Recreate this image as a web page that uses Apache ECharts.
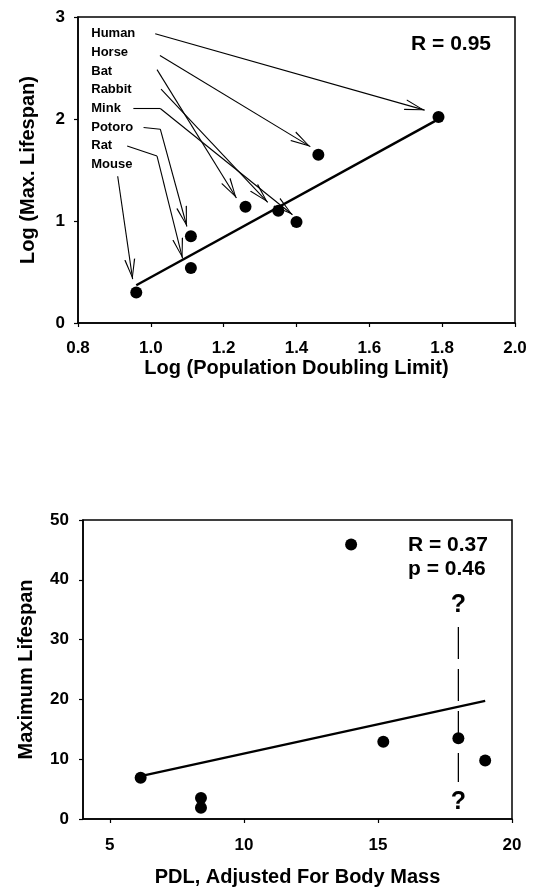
<!DOCTYPE html>
<html>
<head>
<meta charset="utf-8">
<script src="https://cdn.jsdelivr.net/npm/echarts@6/dist/echarts.min.js"></script>
<style>
  html, body { margin: 0; padding: 0; background: #fff; }
  #chart { width: 533px; height: 891px; }
</style>
</head>
<body>
<div id="chart"></div>
<script>
// top panel: log-log plot
var speciesNames = ['Human', 'Horse', 'Bat', 'Rabbit', 'Mink', 'Potoro', 'Rat', 'Mouse'];
var logPdl = [1.79, 1.46, 1.26, 1.35, 1.40, 1.11, 1.11, 0.96];
var logLifespan = [2.02, 1.65, 1.14, 1.10, 0.99, 0.85, 0.54, 0.30];
var labelX = 0.835;
var labelY = [2.835, 2.652, 2.469, 2.286, 2.103, 1.92, 1.737, 1.554];
// pointer lines from each name to its point (last vertex gets the arrow)
var pointerPaths = [
    [[1.012, 2.836], [1.752, 2.087]],
    [[1.025, 2.622], [1.438, 1.729]],
    [[1.017, 2.484], [1.235, 1.226]],
    [[1.028, 2.294], [1.321, 1.183]],
    [[0.952, 2.103], [1.026, 2.103], [1.389, 1.061]],
    [[0.980, 1.916], [1.026, 1.900], [1.099, 0.946]],
    [[0.935, 1.735], [1.017, 1.637], [1.087, 0.634]],
    [[0.909, 1.439], [0.950, 0.430]]
];
var fitTop = [[0.96, 0.37], [1.78, 1.98]];

// bottom panel: adjusted PDL
var pdlAdjusted = [6.15, 8.4, 8.4, 14.0, 15.2, 18.0, 19.0];
var maxLifespan = [6.9, 3.5, 1.9, 45.9, 12.9, 13.5, 9.8];
var fitBottom = [[6.15, 7.16], [19.0, 19.75]];
var rangeLine = [[18, 32.1], [18, 6.2]];
var questionMarks = [[18, 35.8], [18, 2.8]];

var font = 'Liberation Sans';
// open arrow head, tip sits at the centre of the box
var arrowHead = 'path://M6,0L6.01,0L6,0.01ZM6,20L12,40L10.6,40L6,23.5L1.4,40L0,40Z';

var chart = echarts.init(document.getElementById('chart'));

var pointerLines = [];
pointerPaths.forEach(function (path) {
    for (var i = 0; i < path.length - 1; i++) {
        var last = i === path.length - 2;
        pointerLines.push([
            { coord: path[i], symbol: 'none' },
            { coord: path[i + 1], symbol: last ? arrowHead : 'none', symbolSize: [11, 40] }
        ]);
    }
});

function axisCommon() {
    return {
        axisLine: { show: true, onZero: false, lineStyle: { color: '#000', width: 1.5 } },
        axisTick: { show: true, inside: false, length: 4, lineStyle: { color: '#000', width: 1.2 } },
        splitLine: { show: false },
        nameTextStyle: { fontFamily: font, fontWeight: 'bold', fontSize: 20, color: '#000' }
    };
}

var tickFont = { fontFamily: font, fontWeight: 'bold', fontSize: 17, color: '#000' };

var xTop = Object.assign(axisCommon(), {
    gridIndex: 0, type: 'value', min: 0.8, max: 2.0, interval: 0.2,
    name: 'Log (Population Doubling Limit)', nameLocation: 'middle', nameGap: 35,
    axisLabel: Object.assign({ margin: 17, formatter: function (v) { return v.toFixed(1); } }, tickFont)
});
var yTop = Object.assign(axisCommon(), {
    gridIndex: 0, type: 'value', min: 0, max: 3, interval: 1,
    name: 'Log (Max. Lifespan)', nameLocation: 'middle', nameGap: 40,
    axisLabel: Object.assign({ margin: 13 }, tickFont)
});
var xBottom = Object.assign(axisCommon(), {
    gridIndex: 1, type: 'value', min: 4, max: 20,
    name: 'PDL, Adjusted For Body Mass', nameLocation: 'middle', nameGap: 48,
    axisLabel: Object.assign({ margin: 18, customValues: [5, 10, 15, 20] }, tickFont)
});
xBottom.axisTick.customValues = [5, 10, 15, 20];
var yBottom = Object.assign(axisCommon(), {
    gridIndex: 1, type: 'value', min: 0, max: 50, interval: 10,
    name: 'Maximum Lifespan', nameLocation: 'middle', nameGap: 47,
    axisLabel: Object.assign({ margin: 14 }, tickFont)
});

var option = {
    animation: false,
    backgroundColor: '#fff',
    grid: [
        { left: 78, top: 17, width: 437, height: 306, show: true, borderColor: '#000', borderWidth: 1.5, backgroundColor: 'transparent' },
        { left: 83, top: 520, width: 429, height: 299, show: true, borderColor: '#000', borderWidth: 1.5, backgroundColor: 'transparent' }
    ],
    xAxis: [xTop, xBottom],
    yAxis: [yTop, yBottom],
    graphic: [
        { type: 'text', right: 533 - 491, top: 34,
          style: { text: 'R = 0.95', font: 'bold 21px "Liberation Sans"', fill: '#000', textAlign: 'right' } },
        { type: 'text', left: 408, top: 533,
          style: { text: 'R = 0.37\np = 0.46', font: 'bold 21px "Liberation Sans"', fill: '#000', lineHeight: 24 } }
    ],
    series: [
        {
            type: 'line', xAxisIndex: 0, yAxisIndex: 0, data: fitTop, showSymbol: false,
            lineStyle: { color: '#000', width: 2.5 }, silent: true
        },
        {
            type: 'scatter', xAxisIndex: 0, yAxisIndex: 0, symbolSize: 12,
            itemStyle: { color: '#000', opacity: 1 },
            data: logPdl.map(function (x, i) { return [x, logLifespan[i]]; }),
            markLine: {
                silent: true, animation: false,
                label: { show: false },
                lineStyle: { color: '#000', width: 1.1, type: 'solid', opacity: 1 },
                symbol: ['none', 'none'],
                data: pointerLines
            }
        },
        {
            type: 'scatter', xAxisIndex: 0, yAxisIndex: 0, symbolSize: 1, silent: true,
            itemStyle: { color: 'transparent', opacity: 1 },
            label: { show: true, position: 'right', distance: 0, color: '#000', opacity: 1,
                fontFamily: font, fontWeight: 'bold', fontSize: 13,
                formatter: function (p) { return speciesNames[p.dataIndex]; } },
            data: labelY.map(function (y) { return [labelX, y]; })
        },
        {
            type: 'line', xAxisIndex: 1, yAxisIndex: 1, data: fitBottom, showSymbol: false,
            lineStyle: { color: '#000', width: 2.2 }, silent: true
        },
        {
            type: 'line', xAxisIndex: 1, yAxisIndex: 1, data: rangeLine, showSymbol: false,
            lineStyle: { color: '#000', width: 1.3, type: [32, 10] }, silent: true
        },
        {
            type: 'scatter', xAxisIndex: 1, yAxisIndex: 1, symbolSize: 12,
            itemStyle: { color: '#000', opacity: 1 },
            data: pdlAdjusted.map(function (x, i) { return [x, maxLifespan[i]]; })
        },
        {
            type: 'scatter', xAxisIndex: 1, yAxisIndex: 1, symbolSize: 1, silent: true,
            itemStyle: { color: 'transparent', opacity: 1 },
            label: { show: true, position: 'inside', color: '#000', opacity: 1,
                fontFamily: font, fontWeight: 'bold', fontSize: 25, formatter: '?' },
            data: questionMarks
        }
    ]
};

chart.setOption(option);
</script>
</body>
</html>
